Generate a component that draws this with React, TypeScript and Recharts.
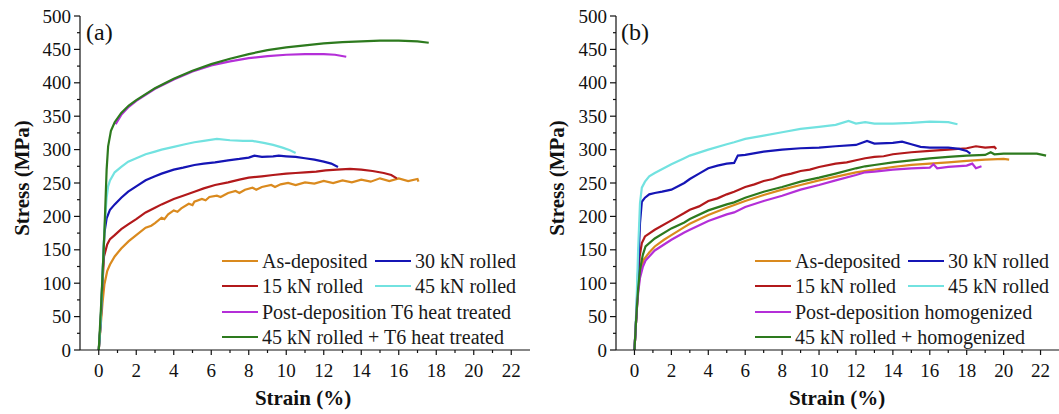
import React from "react";
import { LineChart, Line, XAxis, YAxis } from "recharts";

type Pt = [number, number];

// axis ticks
const majorX = [0, 2, 4, 6, 8, 10, 12, 14, 16, 18, 20, 22];
const minorX = [1, 3, 5, 7, 9, 11, 13, 15, 17, 19, 21];
const majorY = [0, 50, 100, 150, 200, 250, 300, 350, 400, 450, 500];
const minorY = [25, 75, 125, 175, 225, 275, 325, 375, 425, 475];

const colors = ["#DA8A1E", "#B2191B", "#1515B5", "#72E2E0", "#B42FD8", "#2D7A1E"];
const namesA = [
  "As-deposited",
  "15 kN rolled",
  "30 kN rolled",
  "45 kN rolled",
  "Post-deposition T6 heat treated",
  "45 kN rolled + T6 heat treated",
];
const namesB = [
  "As-deposited",
  "15 kN rolled",
  "30 kN rolled",
  "45 kN rolled",
  "Post-deposition homogenized",
  "45 kN rolled + homogenized",
];

// (a) strain %, stress MPa
const asDepA: Pt[] = [
  [0, 0], [0.1, 35], [0.2, 70], [0.3, 98], [0.45, 118], [0.6, 128], [0.85, 140], [1.2, 152],
  [1.6, 163], [2, 172], [2.5, 183], [2.8, 186], [3, 190], [3.35, 198], [3.5, 196], [3.7, 203],
  [4, 209], [4.2, 207], [4.4, 212], [4.8, 219], [5, 217], [5.1, 222], [5.5, 226], [5.7, 224],
  [5.9, 229], [6.3, 231], [6.5, 229], [6.9, 235], [7.3, 238], [7.5, 235], [7.8, 240], [8.2, 243],
  [8.4, 240], [8.7, 244], [9.2, 247], [9.4, 244], [9.7, 248], [10.1, 250], [10.5, 247], [11, 251],
  [11.5, 249], [12, 253], [12.5, 250], [13, 254], [13.5, 251], [14, 255], [14.5, 252], [15, 257],
  [15.5, 253], [16, 257], [16.5, 253], [17, 256], [17.05, 252],
];
const kn15A: Pt[] = [
  [0, 0], [0.1, 40], [0.2, 100], [0.28, 140], [0.45, 158], [0.6, 166], [0.85, 172], [1.2, 181],
  [1.57, 188], [2, 196], [2.5, 206], [3, 213], [3.35, 218], [4, 226], [4.5, 231], [5.1, 237],
  [5.6, 242], [6.2, 247], [6.9, 251], [7.5, 255], [8, 258], [8.7, 260], [9.3, 262], [10, 264],
  [10.5, 265], [11, 266], [11.6, 267], [12.1, 269], [12.7, 270], [13.4, 271], [14, 270],
  [14.6, 268], [15.2, 265], [15.6, 262], [15.9, 257],
];
const kn30A: Pt[] = [
  [0, 0], [0.1, 40], [0.2, 110], [0.3, 175], [0.42, 197], [0.6, 210], [0.85, 218], [1.2, 228],
  [1.57, 237], [2, 245], [2.5, 254], [3, 260], [3.35, 264], [4, 270], [4.5, 273], [5.1, 277],
  [5.6, 279], [6.2, 281], [6.9, 284], [7.5, 286], [8, 288], [8.3, 291], [8.7, 289], [9.3, 290],
  [9.6, 291], [10, 290], [10.5, 289], [11, 287], [11.5, 285], [12, 282], [12.4, 279], [12.76, 274],
];
const kn45A: Pt[] = [
  [0, 0], [0.1, 40], [0.2, 110], [0.3, 180], [0.42, 228], [0.5, 245], [0.6, 254], [0.85, 266],
  [1.2, 274], [1.57, 282], [2, 287], [2.5, 293], [3, 297], [3.35, 300], [4, 304], [4.6, 308],
  [5.1, 311], [5.6, 313], [6.3, 316], [7, 314], [7.7, 313], [8.2, 313], [8.8, 310], [9.3, 307],
  [9.8, 303], [10.2, 299], [10.5, 295],
];
const postT6A: Pt[] = [
  [0.9, 338], [1.2, 352], [1.6, 364], [2, 373], [3, 391], [4, 405], [5, 417], [6, 426], [7, 432],
  [8, 437], [9, 440], [10, 442], [11, 443], [12, 443], [12.6, 442], [13.2, 439],
];
const kn45T6A: Pt[] = [
  [0, 0], [0.15, 80], [0.3, 175], [0.42, 270], [0.5, 305], [0.65, 328], [0.85, 341], [1.2, 355],
  [1.6, 366], [2, 374], [3, 392], [4, 406], [5, 418], [6, 428], [7, 436], [8, 443], [9, 449],
  [10, 453], [11, 456], [12, 459], [13, 461], [14, 462], [15, 463], [16, 463], [17, 462], [17.6, 460],
];

// (b)
const asDepB: Pt[] = [
  [0, 0], [0.1, 50], [0.2, 90], [0.3, 115], [0.5, 135], [0.8, 146], [1.1, 155], [1.6, 165],
  [2, 172], [2.7, 184], [3, 189], [4, 202], [5, 213], [6, 223], [7, 232], [8, 240], [9, 247],
  [10, 254], [11, 260], [12, 266], [13, 270], [14, 274], [15, 277], [16, 279], [17, 281],
  [18, 283], [19, 285], [20, 286], [20.3, 285],
];
const kn15B: Pt[] = [
  [0, 0], [0.1, 50], [0.2, 100], [0.28, 140], [0.4, 160], [0.57, 170], [1.1, 180], [2, 194],
  [2.7, 205], [3, 210], [3.5, 215], [4, 223], [4.5, 227], [5, 233], [5.4, 237], [6, 244],
  [6.5, 248], [7, 253], [7.5, 256], [8, 261], [8.5, 264], [9, 268], [9.5, 270], [10, 274],
  [10.9, 279], [11.5, 281], [12, 284], [12.5, 287], [13, 289], [13.5, 290], [14, 293], [15, 296],
  [16, 298], [17, 300], [18, 302], [18.5, 305], [19, 303], [19.5, 304], [19.6, 301],
];
const kn30B: Pt[] = [
  [0, 0], [0.1, 50], [0.2, 120], [0.3, 190], [0.4, 222], [0.57, 228], [0.8, 233], [1.1, 235],
  [1.5, 237], [2, 240], [2.7, 250], [3, 256], [3.5, 264], [4, 272], [4.5, 276], [5, 279],
  [5.4, 280], [5.6, 291], [6, 292], [7, 297], [8, 300], [9, 302], [10, 303], [10.9, 305],
  [12, 307], [12.6, 313], [13, 309], [14, 310], [14.5, 312], [15, 308], [15.5, 304], [16, 303],
  [17, 303], [17.6, 301], [18, 298], [18.2, 294],
];
const kn45B: Pt[] = [
  [0, 0], [0.1, 60], [0.2, 150], [0.3, 220], [0.4, 243], [0.57, 252], [0.8, 260], [1.1, 265],
  [2, 278], [2.7, 287], [3, 291], [4, 300], [5, 308], [5.4, 311], [6, 316], [7, 321], [8, 326],
  [9, 331], [10, 334], [10.9, 337], [11.6, 343], [12, 339], [12.5, 341], [13, 339], [14, 339],
  [15, 340], [16, 342], [17, 341], [17.5, 338],
];
const homogB: Pt[] = [
  [0, 0], [0.1, 50], [0.2, 85], [0.3, 108], [0.45, 124], [0.6, 134], [1.1, 149], [2, 165],
  [2.7, 176], [3, 180], [4, 193], [5, 203], [5.4, 206], [6, 214], [7, 223], [8, 231], [9, 240],
  [10, 247], [10.9, 254], [12, 262], [12.5, 266], [13, 267], [14, 270], [15, 272], [16, 273],
  [16.2, 278], [16.4, 272], [17, 274], [18, 276], [18.3, 279], [18.5, 272], [18.8, 275],
];
const kn45HomogB: Pt[] = [
  [0, 0], [0.1, 50], [0.2, 92], [0.3, 120], [0.45, 142], [0.6, 155], [1.1, 167], [2, 182],
  [2.7, 191], [3, 196], [4, 209], [5, 218], [5.4, 221], [6, 228], [7, 237], [8, 244], [9, 252],
  [10, 258], [10.9, 264], [12, 272], [12.5, 275], [13, 277], [14, 281], [15, 284], [16, 287],
  [17, 289], [18, 291], [19, 292], [19.3, 296], [19.5, 293], [20, 294], [21, 294], [21.8, 294],
  [22.3, 291],
];

const seriesA = [asDepA, kn15A, kn30A, kn45A, postT6A, kn45T6A];
const seriesB = [asDepB, kn15B, kn30B, kn45B, homogB, kn45HomogB];

const FONT = '"Liberation Serif", "Times New Roman", serif';
const xTicks = [...majorX, ...minorX].sort((a, b) => a - b);
const yTicks = [...majorY, ...minorY].sort((a, b) => a - b);

function XTick(props: any) {
  const { x, y, payload } = props;
  const major = majorX.includes(payload.value);
  return (
    <g>
      <line x1={x} x2={x} y1={y} y2={y + (major ? 5 : 3)} stroke="#111" strokeWidth={1.2} />
      {major && (
        <text x={x} y={y + 27} textAnchor="middle" style={{ fontFamily: FONT }} fontSize={19} fill="#111">
          {payload.value}
        </text>
      )}
    </g>
  );
}

function YTick(props: any) {
  const { x, y, payload } = props;
  const major = majorY.includes(payload.value);
  return (
    <g>
      <line x1={x - (major ? 6 : 3)} x2={x} y1={y} y2={y} stroke="#111" strokeWidth={1.2} />
      {major && (
        <text x={x - 9} y={y + 6.5} textAnchor="end" style={{ fontFamily: FONT }} fontSize={19} fill="#111">
          {payload.value}
        </text>
      )}
    </g>
  );
}

const toRows = (pts: Pt[]) => pts.map(([x, y]) => ({ x, y }));

function Panel({
  series,
  width,
  yAxisWidth,
  left,
}: {
  series: Pt[][];
  width: number;
  yAxisWidth: number;
  left: number;
}) {
  return (
    <div style={{ position: "absolute", left, top: 0 }}>
      <LineChart width={width} height={414} margin={{ top: 16, right: 2, bottom: 0, left: 0 }}>
        <XAxis
          type="number"
          dataKey="x"
          domain={[-1, 23]}
          allowDataOverflow
          ticks={xTicks}
          interval={0}
          tickSize={0}
          tickMargin={0}
          tickLine={false}
          tick={<XTick />}
          height={64}
          axisLine={{ stroke: "#111", strokeWidth: 1.2 }}
        />
        <XAxis
          xAxisId="top"
          orientation="top"
          type="number"
          domain={[-1, 23]}
          height={0}
          tick={false}
          tickLine={false}
          axisLine={{ stroke: "#111", strokeWidth: 1.2 }}
        />
        <YAxis
          type="number"
          domain={[0, 500]}
          allowDataOverflow
          ticks={yTicks}
          interval={0}
          tickSize={0}
          tickMargin={0}
          tickLine={false}
          tick={<YTick />}
          width={yAxisWidth}
          axisLine={{ stroke: "#111", strokeWidth: 1.2 }}
        />
        <YAxis
          yAxisId="right"
          orientation="right"
          type="number"
          domain={[0, 500]}
          width={0}
          tick={false}
          tickLine={false}
          axisLine={{ stroke: "#111", strokeWidth: 1.2 }}
        />
        {series.map((s, i) => (
          <Line
            key={i}
            data={toRows(s)}
            dataKey="y"
            type="linear"
            stroke={colors[i]}
            strokeWidth={2.2}
            dot={false}
            activeDot={false}
            isAnimationActive={false}
          />
        ))}
      </LineChart>
    </div>
  );
}

function LegendBox({ left, names }: { left: number; names: string[] }) {
  const rows = [
    [0, 2],
    [1, 3],
    [4],
    [5],
  ];
  const rowTops = [261, 286, 312, 337];
  return (
    <>
      {rows.map((r, ri) => (
        <div
          key={ri}
          style={{
            position: "absolute",
            left,
            top: rowTops[ri] - 12,
            height: 24,
            display: "flex",
            alignItems: "center",
            fontFamily: FONT,
            fontSize: 20,
            color: "#1a1a1a",
            whiteSpace: "nowrap",
          }}
        >
          {r.map((idx, k) => (
            <div
              key={idx}
              style={{ display: "flex", alignItems: "center", width: k === 0 && r.length > 1 ? 153 : undefined }}
            >
              <span style={{ display: "inline-block", width: 36, height: 2, background: colors[idx], marginRight: 4 }} />
              <span>{names[idx]}</span>
            </div>
          ))}
        </div>
      ))}
    </>
  );
}

const titleStyle: React.CSSProperties = {
  position: "absolute",
  fontFamily: FONT,
  fontWeight: "bold",
  fontSize: 21,
  color: "#111",
  whiteSpace: "nowrap",
  transform: "translate(-50%, -50%)",
};

export default function App() {
  return (
    <div style={{ position: "absolute", left: 0, top: 0, width: 1059, height: 414, background: "#fff", overflow: "hidden", fontFamily: FONT }}>
      <Panel series={seriesA} width={532} yAxisWidth={80} left={0} />
      <Panel series={seriesB} width={531} yAxisWidth={86} left={530} />
      <LegendBox left={222} names={namesA} />
      <LegendBox left={755} names={namesB} />
      <div style={{ ...titleStyle, left: 22, top: 178, transform: "translate(-50%, -50%) rotate(-90deg)" }}>Stress (MPa)</div>
      <div style={{ ...titleStyle, left: 557, top: 178, transform: "translate(-50%, -50%) rotate(-90deg)" }}>Stress (MPa)</div>
      <div style={{ ...titleStyle, left: 303, top: 398 }}>Strain (%)</div>
      <div style={{ ...titleStyle, left: 837, top: 398 }}>Strain (%)</div>
      <div style={{ position: "absolute", left: 86, top: 19, fontSize: 24, color: "#111" }}>(a)</div>
      <div style={{ position: "absolute", left: 621, top: 19, fontSize: 24, color: "#111" }}>(b)</div>
    </div>
  );
}
